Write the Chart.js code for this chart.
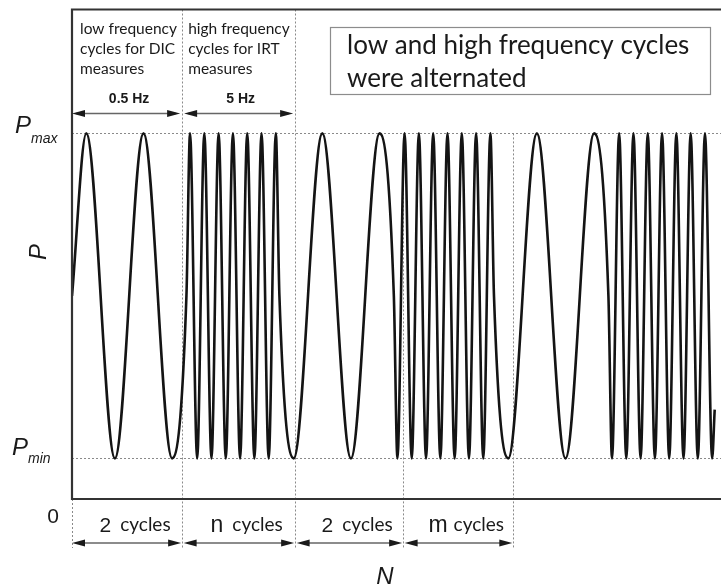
<!DOCTYPE html>
<html>
<head>
<meta charset="utf-8">
<script src="https://cdn.jsdelivr.net/npm/chart.js@4/dist/chart.umd.min.js"></script>
<style>
  html, body { margin: 0; padding: 0; background: #fff; overflow: hidden; }
  #wrap { width: 740px; height: 585px; }
</style>
</head>
<body>
<div id="wrap"><canvas id="c" width="740" height="585"></canvas></div>
<script>
// Load history: turning points of the alternating low / high frequency cycles
const cycleN = [
  0, 1, 3, 5, 7, 8,
  8.25, 8.75, 9.25, 9.75, 10.25, 10.75, 11.25, 11.75, 12.25, 12.75, 13.25, 13.75, 14.25, 14.5,
  15.5, 17.5, 19.5, 21.5, 22.5,
  22.75, 23.25, 23.75, 24.25, 24.75, 25.25, 25.75, 26.25, 26.75, 27.25, 27.75, 28.25, 28.75, 29.25, 29.5,
  30.5, 32.5, 34.5, 36.5, 37.5,
  37.75, 38.25, 38.75, 39.25, 39.75, 40.25, 40.75, 41.25, 41.75, 42.25, 42.75, 43.25, 43.75, 44.25, 44.75, 44.93
];
const loadP = [
  5, 9, 1, 9, 1, 5,
  9, 1, 9, 1, 9, 1, 9, 1, 9, 1, 9, 1, 9, 5,
  1, 9, 1, 9, 5,
  1, 9, 1, 9, 1, 9, 1, 9, 1, 9, 1, 9, 1, 9, 5,
  1, 9, 1, 9, 5,
  1, 9, 1, 9, 1, 9, 1, 9, 1, 9, 1, 9, 1, 9, 1, 2.2
];

// Load levels
const levelValues = [9, 1];
const levelSubs = ['max', 'min'];

// Cycle blocks along N
const blockEdges = [0, 7.7, 15.6, 23.15, 30.85];
const blockCounts = ['2', 'n', '2', 'm'];
const freqLabels = ['0.5 Hz', '5 Hz'];
const blockNotes = [
  ['low frequency', 'cycles for DIC', 'measures'],
  ['high frequency', 'cycles for IRT', 'measures']
];
const noteText = ['low and high frequency cycles', 'were alternated'];

const SANS = '"Liberation Sans", Arial, sans-serif';
const HUMAN = 'Lato, "Open Sans", sans-serif';

function arrowLine(ctx, x1, x2, y) {
  const L = 13, h = 3.6;
  ctx.save();
  ctx.strokeStyle = '#666';
  ctx.lineWidth = 1.5;
  ctx.beginPath();
  ctx.moveTo(x1 + 4, y);
  ctx.lineTo(x2 - 4, y);
  ctx.stroke();
  ctx.fillStyle = '#1a1a1a';
  ctx.beginPath();
  ctx.moveTo(x1, y); ctx.lineTo(x1 + L, y - h); ctx.lineTo(x1 + L, y + h); ctx.closePath();
  ctx.fill();
  ctx.beginPath();
  ctx.moveTo(x2, y); ctx.lineTo(x2 - L, y - h); ctx.lineTo(x2 - L, y + h); ctx.closePath();
  ctx.fill();
  ctx.restore();
}

function dotted(ctx, x1, y1, x2, y2) {
  ctx.save();
  ctx.strokeStyle = '#8a8a8a';
  ctx.lineWidth = 1;
  ctx.setLineDash([2, 2]);
  ctx.beginPath();
  ctx.moveTo(x1, y1);
  ctx.lineTo(x2, y2);
  ctx.stroke();
  ctx.restore();
}

const notesPlugin = {
  id: 'cycleNotes',
  beforeDatasetsDraw(chart) {
    const { ctx, chartArea: a, scales: { x, y } } = chart;
    const W = chart.width;
    // load level guides
    levelValues.forEach(v => {
      const py = Math.round(y.getPixelForValue(v)) + 0.5;
      dotted(ctx, a.left, py, W, py);
    });
    // block separators
    const yTopLevel = y.getPixelForValue(levelValues[0]);
    blockEdges.forEach((n, i) => {
      const px = Math.round(x.getPixelForValue(n)) + 0.5;
      const yStart = i === 0 ? a.bottom : (i <= 2 ? a.top : yTopLevel);
      dotted(ctx, px, yStart, px, a.bottom + 49);
    });
  },
  afterDatasetsDraw(chart) {
    const { ctx, chartArea: a, scales: { x, y } } = chart;
    const W = chart.width;

    // frame
    ctx.save();
    ctx.strokeStyle = '#333';
    ctx.lineWidth = 2.2;
    ctx.beginPath();
    ctx.moveTo(W, a.top); ctx.lineTo(a.left, a.top);
    ctx.lineTo(a.left, a.bottom); ctx.lineTo(W, a.bottom);
    ctx.stroke();
    ctx.restore();

    ctx.save();
    ctx.fillStyle = '#1a1a1a';
    ctx.textBaseline = 'alphabetic';

    // notes above the first two blocks
    ctx.font = '15.5px ' + HUMAN;
    ctx.textAlign = 'left';
    blockNotes.forEach((lines, i) => {
      const lx = x.getPixelForValue(blockEdges[i]) + (i === 0 ? 8 : 6);
      lines.forEach((t, k) => ctx.fillText(t, lx, 33.5 + k * 20));
    });

    // frequency arrows
    ctx.font = 'bold 14px ' + SANS;
    ctx.textAlign = 'center';
    freqLabels.forEach((t, i) => {
      const x1 = x.getPixelForValue(blockEdges[i]);
      const x2 = x.getPixelForValue(blockEdges[i + 1]);
      ctx.fillText(t, (x1 + x2) / 2 + 2, 102.5);
      arrowLine(ctx, x1 + (i === 0 ? 0 : 2), x2 - 2, 113.5);
    });

    // cycle count arrows below the axis
    const yArrow = a.bottom + 44;
    blockCounts.forEach((c, i) => {
      const x1 = x.getPixelForValue(blockEdges[i]);
      const x2 = x.getPixelForValue(blockEdges[i + 1]);
      arrowLine(ctx, x1 + (i === 0 ? 0 : 1.5), x2 - 1, yArrow);
      const numFont = (c === '2' ? '21px ' : '23px ') + SANS;
      const wordFont = '19px ' + HUMAN;
      ctx.font = numFont;
      const wn = ctx.measureText(c).width;
      ctx.font = wordFont;
      const ww = ctx.measureText('cycles').width;
      const gap = c === 'm' ? 6 : 9;
      const start = (x1 + x2) / 2 + 8 - (wn + gap + ww) / 2;
      ctx.textAlign = 'left';
      ctx.font = numFont;
      ctx.fillText(c, start, a.bottom + 32.5);
      ctx.font = wordFont;
      ctx.fillText('cycles', start + wn + gap, a.bottom + 31.5);
    });

    // level labels
    levelValues.forEach((v, i) => {
      const py = y.getPixelForValue(v);
      ctx.textAlign = 'left';
      ctx.font = 'italic 24px ' + SANS;
      const px = i === 0 ? 15 : 12;
      ctx.fillText('P', px, py - (i === 0 ? 0 : 3));
      ctx.font = 'italic 14px ' + SANS;
      ctx.fillText(levelSubs[i], px + 16, py + (i === 0 ? 9.5 : 4.5));
    });

    // origin
    ctx.font = '21px ' + SANS;
    ctx.textAlign = 'center';
    ctx.fillText('0', x.getPixelForValue(0) - 19, a.bottom + 24);

    // axis titles
    ctx.font = 'italic 24px ' + SANS;
    ctx.fillText('N', 385, 584);
    ctx.save();
    ctx.translate(46, 252);
    ctx.rotate(-Math.PI / 2);
    ctx.fillText('P', 0, 0);
    ctx.restore();

    // note box
    ctx.strokeStyle = '#8c8c8c';
    ctx.lineWidth = 1.2;
    ctx.strokeRect(330.5, 27.5, 380, 67);
    ctx.font = '26px ' + HUMAN;
    ctx.textAlign = 'left';
    ctx.fillText(noteText[0], 347, 53.5);
    ctx.fillText(noteText[1], 347, 87);
    ctx.restore();
  }
};

new Chart(document.getElementById('c'), {
  type: 'line',
  data: {
    datasets: [{
      data: cycleN.map((n, i) => ({ x: n, y: loadP[i] })),
      borderColor: '#141414',
      borderWidth: 2.6,
      pointRadius: 0,
      fill: false,
      cubicInterpolationMode: 'monotone'
    }]
  },
  options: {
    responsive: false,
    animation: false,
    devicePixelRatio: 1,
    layout: { padding: { left: 72, top: 9.5, right: 10, bottom: 86 } },
    scales: {
      x: { type: 'linear', min: 0, max: 46, display: false },
      y: { type: 'linear', min: 0, max: 12.05, display: false }
    },
    plugins: { legend: { display: false }, tooltip: { enabled: false } }
  },
  plugins: [notesPlugin]
});
</script>
</body>
</html>
